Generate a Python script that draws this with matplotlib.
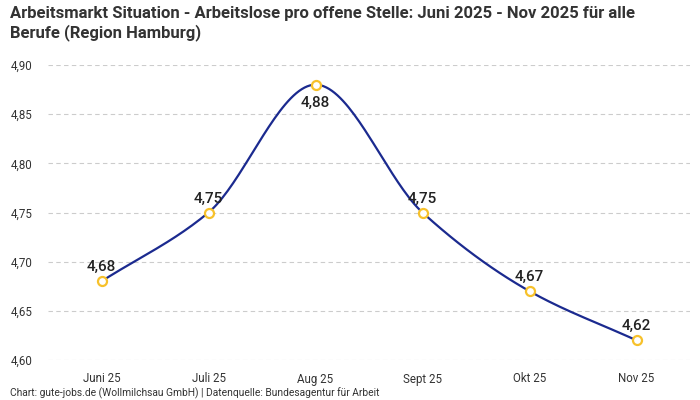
import numpy as np
import matplotlib.pyplot as plt
from matplotlib import font_manager

monate = ['Juni 25', 'Juli 25', 'Aug 25', 'Sept 25', 'Okt 25', 'Nov 25']
werte = [4.68, 4.75, 4.88, 4.75, 4.67, 4.62]
y_ticks = [4.60, 4.65, 4.70, 4.75, 4.80, 4.85, 4.90]

namen = {f.name for f in font_manager.fontManager.ttflist}
titel_font = 'Liberation Sans Narrow' if 'Liberation Sans Narrow' in namen else 'Roboto'
plt.rcParams['font.family'] = ['Roboto', 'DejaVu Sans']


# monotone kubische Kurve (nur zum Zeichnen der Linie)
def monoton(x, y, n=40):
    x = np.asarray(x, float)
    y = np.asarray(y, float)
    h = np.diff(x)
    d = np.diff(y) / h
    m = np.zeros(len(x))
    m[0], m[-1] = d[0], d[-1]
    for i in range(1, len(x) - 1):
        if d[i - 1] * d[i] <= 0:
            m[i] = 0
        else:
            m[i] = 3 * (h[i - 1] + h[i]) / ((2 * h[i] + h[i - 1]) / d[i - 1] + (h[i] + 2 * h[i - 1]) / d[i])
    xs, ys = [], []
    for i in range(len(x) - 1):
        t = np.linspace(0, 1, n)
        h00 = 2 * t**3 - 3 * t**2 + 1
        h10 = t**3 - 2 * t**2 + t
        h01 = -2 * t**3 + 3 * t**2
        h11 = t**3 - t**2
        xs.append(x[i] + t * h[i])
        ys.append(h00 * y[i] + h10 * h[i] * m[i] + h01 * y[i + 1] + h11 * h[i] * m[i + 1])
    return np.concatenate(xs), np.concatenate(ys)


pos = np.arange(len(monate))
fig = plt.figure(figsize=(7, 4), dpi=100)
ax = fig.add_axes([48 / 700, 1 - 360 / 400, 642 / 700, 295 / 400])

xs, ys = monoton(pos, werte)
ax.plot(xs, ys, color='#1b2a8f', lw=1.6, zorder=2)
ax.plot(pos, werte, 'o', ms=6.5, mfc='white', mec='#f7c12b', mew=1.6, zorder=3)

for i, w in enumerate(werte):
    txt = f'{w:.2f}'.replace('.', ',')
    if i == 2:
        ax.annotate(txt, (i, w), xytext=(0, -8), textcoords='offset points',
                    ha='center', va='top', fontsize=11, color='#222222', fontweight='medium')
    else:
        ax.annotate(txt, (i, w), xytext=(0, 5), textcoords='offset points',
                    ha='center', va='bottom', fontsize=11, color='#222222', fontweight='medium')

ax.set_xlim(-0.5, len(monate) - 0.5)
ax.set_ylim(4.60, 4.90)
ax.set_yticks(y_ticks)
ax.set_yticklabels([f'{v:.2f}'.replace('.', ',') for v in y_ticks])
ax.set_xticks(pos)
ax.set_xticklabels(monate)
ax.tick_params(length=0, labelsize=8.3, colors='#333333')
ax.tick_params(axis='y', pad=11)
ax.tick_params(axis='x', pad=9)
ax.grid(axis='y', color='#cccccc', ls=(0, (4, 3)), lw=0.8)
ax.set_axisbelow(True)
for s in ax.spines.values():
    s.set_visible(False)

fig.text(10 / 700, 1 - 6 / 400,
         'Arbeitsmarkt Situation - Arbeitslose pro offene Stelle: Juni 2025 - Nov 2025 für alle\nBerufe (Region Hamburg)',
         ha='left', va='top', fontsize=12, fontweight='bold', color='#333333',
         family=[titel_font, 'DejaVu Sans'], linespacing=1.25)
fig.text(10 / 700, 1 - 393 / 400,
         'Chart: gute-jobs.de (Wollmilchsau GmbH) | Datenquelle: Bundesagentur für Arbeit',
         ha='left', va='center', fontsize=7.4, color='#333333')

fig.savefig('out.png', dpi=100)
